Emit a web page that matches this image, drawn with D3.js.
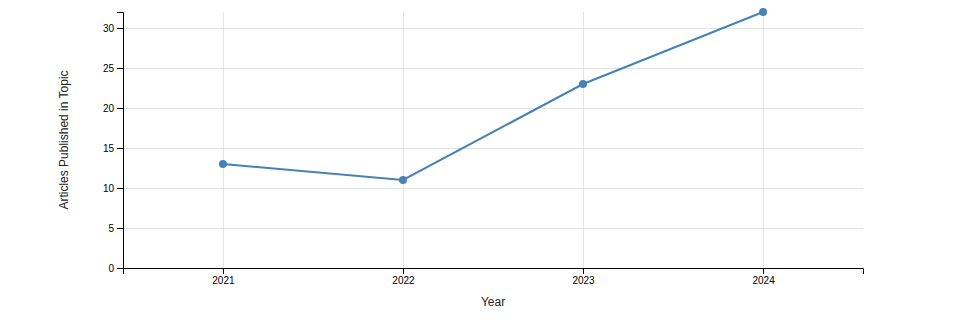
<!DOCTYPE html>
<html>
<head>
<meta charset="utf-8">
<script src="https://cdn.jsdelivr.net/npm/d3@7"></script>
<style>
body { margin: 0; background: #fff; }
svg { display: block; font-family: "Liberation Sans", Arial, sans-serif; }
</style>
</head>
<body>
<svg id="chart" width="975" height="330"></svg>
<script>
const years = ["2021", "2022", "2023", "2024"];
const articles = [13, 11, 23, 32];
const yTicks = [0, 5, 10, 15, 20, 25, 30];

const data = years.map((y, i) => ({ year: y, value: articles[i] }));

const W = 975, H = 330;
const margin = { top: 12, right: 112, bottom: 62, left: 123 };
const svg = d3.select("#chart");

const x = d3.scalePoint().domain(years).range([margin.left, W - margin.right]).padding(0.555);
const y = d3.scaleLinear().domain([0, 32]).range([H - margin.bottom, margin.top]);

// grid
const grid = svg.append("g").attr("stroke", "#e3e3e3").attr("stroke-width", 1);
grid.selectAll(".hg").data(yTicks).join("line")
  .attr("x1", margin.left).attr("x2", W - margin.right)
  .attr("y1", d => y(d) + 0.5).attr("y2", d => y(d) + 0.5);
grid.selectAll(".vg").data(years).join("line")
  .attr("x1", d => x(d) + 0.5).attr("x2", d => x(d) + 0.5)
  .attr("y1", margin.top).attr("y2", H - margin.bottom);

// axes
svg.append("g")
  .attr("transform", `translate(0,${H - margin.bottom})`)
  .call(d3.axisBottom(x))
  .call(g => g.selectAll("text").attr("font-size", 10).attr("font-family", "Liberation Sans, Arial, sans-serif"));

svg.append("g")
  .attr("transform", `translate(${margin.left},0)`)
  .call(d3.axisLeft(y).tickValues(yTicks))
  .call(g => g.selectAll("text").attr("font-size", 10).attr("font-family", "Liberation Sans, Arial, sans-serif"));

// line
svg.append("path").datum(data)
  .attr("fill", "none").attr("stroke", "steelblue").attr("stroke-width", 2)
  .attr("d", d3.line().x(d => x(d.year)).y(d => y(d.value)));

svg.selectAll(".dot").data(data).join("circle")
  .attr("cx", d => x(d.year)).attr("cy", d => y(d.value)).attr("r", 4)
  .attr("fill", "steelblue");

// labels
svg.append("text")
  .attr("x", (margin.left + W - margin.right) / 2).attr("y", 306)
  .attr("text-anchor", "middle").attr("font-size", 12).attr("fill", "#222")
  .text("Year");

svg.append("text")
  .attr("transform", `translate(68,${(margin.top + H - margin.bottom) / 2}) rotate(-90)`)
  .attr("text-anchor", "middle").attr("font-size", 12).attr("fill", "#222")
  .text("Articles Published in Topic");
</script>
</body>
</html>
